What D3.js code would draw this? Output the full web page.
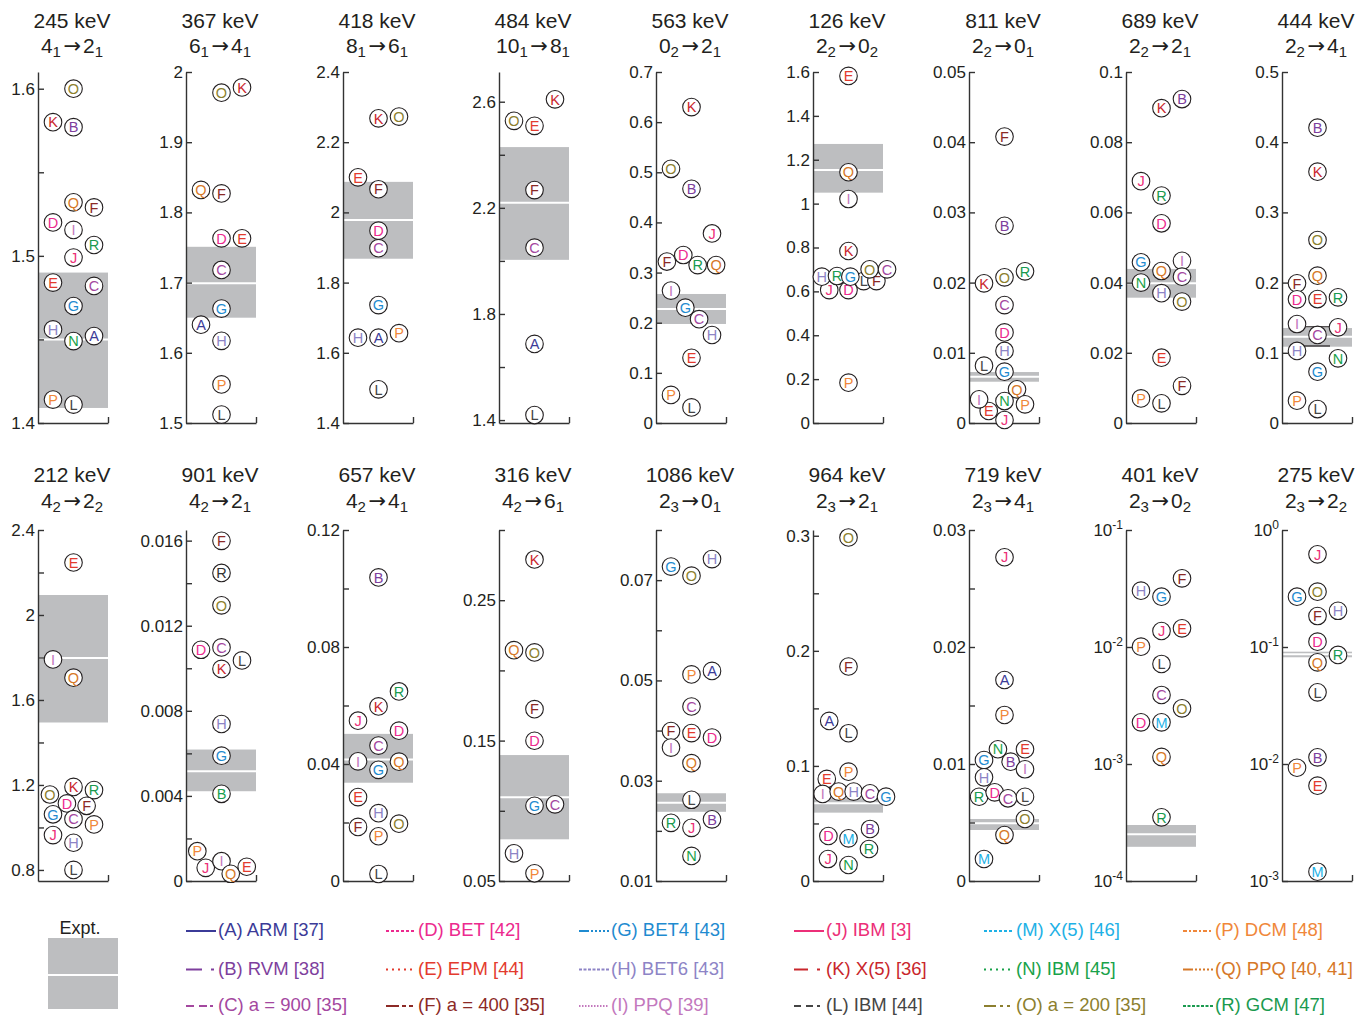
<!DOCTYPE html>
<html><head><meta charset="utf-8">
<script src="https://cdn.jsdelivr.net/npm/d3@7"></script>
<style>
body{margin:0;background:#fff;}
svg{display:block;font-family:"Liberation Sans",Arial,Helvetica,sans-serif;}
</style>
</head><body>
<svg id="c" width="1371" height="1015"></svg>
<script>
// ---------------- data ----------------
const models = ["A","B","C","D","E","F","G","H","I","J","K","L","M","N","O","P","Q","R"];
const modelNames = ["ARM [37]","RVM [38]","a = 900 [35]","BET [42]","EPM [44]","a = 400 [35]","BET4 [43]","BET6 [43]","PPQ [39]",
  "IBM [3]","X(5) [36]","IBM [44]","X(5) [46]","IBM [45]","a = 200 [35]","DCM [48]","PPQ [40, 41]","GCM [47]"];
const modelColors = ["#3b3b98","#7e3f9d","#a4489f","#ec2a8e","#e33b2e","#8c2a26","#1f8bd0","#8d84c6","#c378bd",
  "#ec2f78","#c9262c","#454545","#1eb1e6","#19a24a","#8c7f2f","#f0873a","#d67828","#1a9a4f"];
const modelDashes = ["none","16,9,3,2","8,5,8,3,3,3","3,2","2,4","13,3,4,3,4,3","10,2,2,2,2,2,2,2,2,2,2","3,1.5","1.5,1.5",
  "none","14,9,3,4","7,5,7,4,3,4","3,2","2,4","12,4,3,4,3,4","4,2,2,2","10,2,2,2,2,2,2,2,2,2,2","3,1.5"];

const energies = ["245 keV","367 keV","418 keV","484 keV","563 keV","126 keV","811 keV","689 keV","444 keV",
  "212 keV","901 keV","657 keV","316 keV","1086 keV","964 keV","719 keV","401 keV","275 keV"];
const transitions = [["4","1","2","1"],["6","1","4","1"],["8","1","6","1"],["10","1","8","1"],["0","2","2","1"],
  ["2","2","0","2"],["2","2","0","1"],["2","2","2","1"],["2","2","4","1"],["4","2","2","2"],["4","2","2","1"],
  ["4","2","4","1"],["4","2","6","1"],["2","3","0","1"],["2","3","2","1"],["2","3","4","1"],["2","3","0","2"],["2","3","2","2"]];

// experimental value [value, low, high]
const expt = [[1.45,1.409,1.490],[1.699,1.650,1.751],[1.978,1.868,2.087],[2.219,2.004,2.429],[0.2274,0.1975,0.2573],
  [1.153,1.050,1.272],[0.0066,0.00588,0.00726],[0.0398,0.0357,0.0439],[0.1229,0.1087,0.1353],
  [1.797,1.494,2.094],[0.00516,0.00422,0.00618],[0.0415,0.0336,0.0503],[0.1096,0.0797,0.1397],
  [0.0256,0.0238,0.0275],[0.0676,0.0594,0.0719],[0.00493,0.00436,0.0053],[0.000251,0.000196,0.000301],[0.0866,0.0817,0.0912]];
const extraLines444 = [0.137, 0.1097];

const domains = [[1.4,1.61],[1.5,2.0],[1.4,2.4],[1.389,2.712],[0,0.7],[0,1.6],[0,0.05],[0,0.1],[0,0.5],
  [0.748,2.4],[0,0.0165],[0,0.12],[0.05,0.3],[0.01,0.08],[0,0.305],[0,0.03],[1e-4,1e-1],[1e-3,1]];
const logPanels = [16,17];
const majorTicks = [[1.4,1.5,1.6],[1.5,1.6,1.7,1.8,1.9,2],[1.4,1.6,1.8,2,2.2,2.4],[1.4,1.8,2.2,2.6],
  [0,0.1,0.2,0.3,0.4,0.5,0.6,0.7],[0,0.2,0.4,0.6,0.8,1,1.2,1.4,1.6],[0,0.01,0.02,0.03,0.04,0.05],
  [0,0.02,0.04,0.06,0.08,0.1],[0,0.1,0.2,0.3,0.4,0.5],
  [0.8,1.2,1.6,2,2.4],[0,0.004,0.008,0.012,0.016],[0,0.04,0.08,0.12],[0.05,0.15,0.25],[0.01,0.03,0.05,0.07],
  [0,0.1,0.2,0.3],[0,0.01,0.02,0.03],[1e-4,1e-3,1e-2,1e-1],[1e-3,1e-2,1e-1,1]];
const tickLabels = [["1.4","1.5","1.6"],["1.5","1.6","1.7","1.8","1.9","2"],["1.4","1.6","1.8","2","2.2","2.4"],["1.4","1.8","2.2","2.6"],
  ["0","0.1","0.2","0.3","0.4","0.5","0.6","0.7"],["0","0.2","0.4","0.6","0.8","1","1.2","1.4","1.6"],["0","0.01","0.02","0.03","0.04","0.05"],
  ["0","0.02","0.04","0.06","0.08","0.1"],["0","0.1","0.2","0.3","0.4","0.5"],
  ["0.8","1.2","1.6","2","2.4"],["0","0.004","0.008","0.012","0.016"],["0","0.04","0.08","0.12"],["0.05","0.15","0.25"],["0.01","0.03","0.05","0.07"],
  ["0","0.1","0.2","0.3"],["0","0.01","0.02","0.03"],["-4","-3","-2","-1"],["-3","-2","-1","0"]];
const minorTicks = [[1.45,1.55],[],[],[1.6,2.0,2.4],[],[],[],[],[],
  [1.0,1.4,1.8,2.2],[0.002,0.006,0.01,0.014],[0.02,0.06,0.1],[0.1,0.2,0.3],[0.02,0.04,0.06,0.08],
  [0.05,0.15,0.25],[0.005,0.015,0.025],[],[]];

// points: [model, value, lane]  (lane: -1 left, 0 centre, 1 right)
const p245 = [["O",1.600,0],["K",1.580,-1],["B",1.577,0],["Q",1.532,0],["F",1.529,1],["D",1.520,-1],["I",1.5155,0],["R",1.5065,1],["J",1.499,0],["E",1.484,-1],["C",1.482,1],["G",1.470,0],["H",1.456,-1],["N",1.449,0],["A",1.452,1],["P",1.414,-1],["L",1.411,0]];
const p367 = [["O",1.9705,0],["K",1.978,1],["Q",1.832,-1],["F",1.827,0],["D",1.763,0],["E",1.763,1],["C",1.718,0],["G",1.663,0],["A",1.640,-1],["H",1.617,0],["P",1.555,0],["L",1.512,0]];
const p418 = [["K",2.268,0],["O",2.273,1],["E",2.100,-1],["F",2.066,0],["D",1.948,0],["C",1.898,0],["G",1.736,0],["H",1.643,-1],["A",1.643,0],["P",1.656,1],["L",1.496,0]];
const p484 = [["K",2.609,1],["O",2.528,-1],["E",2.509,0],["F",2.267,0],["C",2.050,0],["A",1.687,0],["L",1.419,0]];
const p563 = [["K",0.630,0],["O",0.507,-1],["B",0.467,0],["J",0.378,1],["F",0.322,-1.2],["D",0.335,-0.4],["R",0.315,0.3],["Q",0.315,1.2],["I",0.264,-1],["G",0.230,-0.3],["C",0.207,0.37],["H",0.1755,1],["E",0.130,0],["P",0.056,-1],["L",0.031,0]];
const p126 = [["E",1.582,0],["Q",1.143,0],["I",1.021,0],["K",0.784,0],["J",0.606,-0.94],["D",0.606,0],["L",0.647,0.74],["F",0.647,1.36],["H",0.667,-1.3],["R",0.670,-0.56],["G",0.667,0.09],["O",0.7005,1.03],["C",0.7005,1.88],["P",0.184,0]];
const p811 = [["F",0.0408,0],["B",0.0281,0],["R",0.0216,1],["O",0.02075,0],["K",0.0199,-1],["C",0.0168,0],["D",0.0129,0],["H",0.01026,0],["L",0.00817,-1],["G",0.00731,0],["Q",0.0048,0.61],["E",0.00171,-0.77],["I",0.00337,-1.24],["N",0.00313,0],["P",0.00266,1],["J",0.00043,0]];
const p689 = [["B",0.0923,1],["K",0.0897,0],["J",0.0689,-1],["R",0.0648,0],["D",0.0569,0],["G",0.0458,-1],["I",0.0462,1],["Q",0.0433,0],["C",0.0417,1],["N",0.0400,-1],["H",0.0370,0],["O",0.0346,1],["E",0.0186,0],["F",0.0106,1],["P",0.0070,-1],["L",0.0056,0]];
const p444 = [["B",0.4207,0],["K",0.358,0],["O",0.2607,0],["Q",0.2099,0],["F",0.199,-1],["D",0.1762,-1],["E",0.1766,0],["R",0.179,1],["I",0.141,-1],["J",0.1363,1],["C",0.1254,0],["H",0.1026,-1],["N",0.0921,1],["G",0.0731,0],["P",0.0318,-1],["L",0.0199,0]];
const p212 = [["E",2.247,0],["I",1.791,-1],["Q",1.705,0],["K",1.191,0],["R",1.176,1],["O",1.155,-1.15],["D",1.113,-0.32],["F",1.102,0.64],["G",1.062,-1],["C",1.039,0],["P",1.0145,1],["J",0.964,-1],["H",0.928,0],["L",0.800,0]];
const p901 = [["F",0.01599,0],["R",0.01448,0],["O",0.01296,0],["D",0.01087,-1],["C",0.01098,0],["L",0.01037,1],["K",0.00997,0],["H",0.00738,0],["G",0.00589,0],["B",0.0041,0],["P",0.0014,-1.18],["J",0.00062,-0.77],["I",0.00093,0],["Q",0.00034,0.45],["E",0.00067,1.23]];
const p657 = [["B",0.1038,0],["R",0.0648,1],["K",0.0597,0],["J",0.0548,-1],["D",0.0514,1],["C",0.0463,0],["I",0.0409,-1],["Q",0.0408,1],["G",0.038,0],["E",0.0287,-1],["H",0.0232,0],["F",0.0185,-1],["O",0.0196,1],["P",0.0153,0],["L",0.0024,0]];
const p316 = [["K",0.279,0],["Q",0.2144,-1],["O",0.2128,0],["F",0.1724,0],["D",0.1499,0],["G",0.1036,0],["C",0.1046,1],["H",0.0697,-1],["P",0.0555,0]];
const p1086 = [["G",0.0727,-1],["O",0.0709,0],["H",0.0742,1],["P",0.0512,0],["A",0.0519,1],["C",0.0448,0],["F",0.0399,-1],["E",0.0395,0],["D",0.0386,1],["I",0.0366,-1],["Q",0.0335,0],["L",0.0262,0],["R",0.0216,-1],["B",0.0223,1],["J",0.0206,0],["N",0.015,0]];
const p964 = [["O",0.2985,0],["F",0.1864,0],["A",0.1391,-0.94],["L",0.1284,0],["P",0.095,0],["E",0.0887,-1.06],["I",0.0757,-1.26],["Q",0.0777,-0.48],["H",0.0777,0.25],["C",0.0762,1.05],["G",0.0733,1.83],["B",0.0452,1.05],["D",0.0391,-0.98],["M",0.0371,0],["R",0.0278,1],["J",0.0191,-1],["N",0.0139,0]];
const p719 = [["J",0.02767,0],["A",0.01718,0],["P",0.01419,0],["N",0.01126,-0.32],["E",0.01126,1],["G",0.01034,-1],["B",0.0102,0.3],["I",0.00955,1],["H",0.00886,-1],["R",0.0072,-1.24],["D",0.00758,-0.48],["C",0.00707,0.17],["L",0.0072,1],["O",0.0053,1],["Q",0.00393,0],["M",0.00188,-1]];
const p401 = [["F",0.0386,1],["H",0.0303,-1],["G",0.0269,0],["J",0.0137,0],["E",0.01445,1],["P",0.01007,-1],["L",0.00716,0],["C",0.00389,0],["O",0.00299,1],["D",0.00227,-1],["M",0.00227,0],["Q",0.00115,0],["R",0.00035,0]];
const p275 = [["J",0.619,0],["O",0.297,0],["G",0.269,-1],["H",0.204,1],["F",0.184,0],["D",0.111,0],["R",0.0855,1],["Q",0.074,0],["L",0.041,0],["B",0.0114,0],["P",0.00929,-1],["E",0.00653,0],["M",0.0012,0]];
// colour overrides as printed in the 901 keV panel
const colorOverride901 = {R:"#333333", B:"#1aa050"};

// ---------------- drawing ----------------
const allPoints = [p245,p367,p418,p484,p563,p126,p811,p689,p444,p212,p901,p657,p316,p1086,p964,p719,p401,p275];
const colorOf = Object.fromEntries(models.map((m,k)=>[m, modelColors[k]]));
const svg = d3.select("#c");
svg.append("rect").attr("width",1371).attr("height",1015).attr("fill","#fff");

const axisX = [38,186,343,499,656,813,969,1126,1282];
const rowY = [[423,72],[881,530]];
const titleY = [[27.5,52.5],[482,507.5]];
const W = 70, TXT = "#231f20";

energies.forEach((en,i)=>{
  const row = i<9?0:1, col = i%9, x0 = axisX[col];
  const [yb,yt] = rowY[row];
  const y = (logPanels.includes(i)? d3.scaleLog(): d3.scaleLinear()).domain(domains[i]).range([yb,yt]);
  const g = svg.append("g");

  // titles
  g.append("text").attr("x",x0+34).attr("y",titleY[row][0]).attr("text-anchor","middle")
    .attr("font-size",21).attr("fill",TXT).text(en);
  const tr = transitions[i];
  const t2 = g.append("text").attr("x",x0+34).attr("y",titleY[row][1]).attr("text-anchor","middle")
    .attr("font-size",21).attr("fill",TXT);
  t2.append("tspan").text(tr[0]);
  t2.append("tspan").attr("dy",4.6).attr("font-size",15).text(tr[1]);
  t2.append("tspan").attr("dy",-4.6).attr("dx",2.5).attr("font-family","DejaVu Sans").attr("font-size",21).text("\u2192");
  t2.append("tspan").attr("dx",2).text(tr[2]);
  t2.append("tspan").attr("dy",4.6).attr("font-size",15).text(tr[3]);

  // experimental band
  const ex = expt[i];
  g.append("rect").attr("x",x0).attr("width",W).attr("y",y(ex[2])).attr("height",y(ex[1])-y(ex[2])).attr("fill","#bdbec0");
  g.append("line").attr("x1",x0).attr("x2",x0+W).attr("y1",y(ex[0])).attr("y2",y(ex[0])).attr("stroke","#fff").attr("stroke-width",2);
  if(i===8){
    g.selectAll("line.extra").data(extraLines444).join("line").attr("class","extra")
      .attr("x1",x0+18).attr("x2",x0+48).attr("y1",d=>y(d)).attr("y2",d=>y(d))
      .attr("stroke","#231f20").attr("stroke-width",1.2);
  }

  // axes
  const labelMap = new Map(majorTicks[i].map((v,k)=>[v, tickLabels[i][k]]));
  const ax = d3.axisLeft(y).tickValues(majorTicks[i].concat(minorTicks[i]))
    .tickSizeInner(-6).tickSizeOuter(0).tickPadding(3)
    .tickFormat(v => labelMap.has(v)? labelMap.get(v): "");
  const ag = g.append("g").attr("transform",`translate(${x0},0)`).call(ax);
  ag.attr("font-family",null).attr("font-size",17);
  ag.selectAll("path,line").attr("stroke","#333").attr("stroke-width",1.4);
  ag.selectAll("text").attr("fill",TXT);
  if(logPanels.includes(i)){
    ag.selectAll("text").each(function(v){
      const s = labelMap.get(v); const t = d3.select(this); t.text("");
      t.append("tspan").text("10");
      t.append("tspan").attr("dy",-7).attr("font-size",12).text(s);
    });
  }
  const xb = d3.scaleLinear().domain([0,1]).range([x0,x0+W]);
  const bg = g.append("g").attr("transform",`translate(0,${yb})`)
    .call(d3.axisBottom(xb).tickValues([1]).tickSizeInner(-6).tickSizeOuter(0).tickFormat(""));
  bg.selectAll("path,line").attr("stroke","#333").attr("stroke-width",1.4);

  // points
  const lane = d3.scaleLinear().domain([-1,1]).range([x0+15,x0+56]);
  const pg = g.selectAll("g.pt").data(allPoints[i]).join("g").attr("class","pt")
    .attr("transform",d=>`translate(${lane(d[2])},${y(d[1])})`);
  pg.append("circle").attr("r",8.8).attr("fill","#fff").attr("stroke","#231f20").attr("stroke-width",1.1);
  pg.append("text").attr("text-anchor","middle").attr("dy","0.36em").attr("font-size",14.5)
    .attr("fill",d=> (i===10 && colorOverride901[d[0]]) ? colorOverride901[d[0]] : colorOf[d[0]])
    .text(d=>d[0]);
});

// ---------------- legend ----------------
const lg = svg.append("g");
lg.append("text").attr("x",80).attr("y",934).attr("text-anchor","middle").attr("font-size",18).attr("fill",TXT).text("Expt.");
lg.append("rect").attr("x",48).attr("y",938).attr("width",70).attr("height",71).attr("fill","#bdbec0");
lg.append("line").attr("x1",48).attr("x2",118).attr("y1",975).attr("y2",975).attr("stroke","#fff").attr("stroke-width",2);
const legendX = [186,386,579,794,984,1183];
const legendY = [930,968.5,1005];
const items = lg.selectAll("g.it").data(models).join("g").attr("class","it")
  .attr("transform",(m,k)=>`translate(${legendX[Math.floor(k/3)]},${legendY[k%3]})`);
items.append("line").attr("x1",0).attr("x2",30).attr("y1",1).attr("y2",1)
  .attr("stroke",(m,k)=>modelColors[k]).attr("stroke-width",2)
  .attr("stroke-dasharray",(m,k)=>modelDashes[k]==="none"?null:modelDashes[k]);
items.append("text").attr("x",32).attr("dy","0.35em").attr("font-size",18.5)
  .attr("fill",(m,k)=>modelColors[k]).text((m,k)=>`(${m}) ${modelNames[k]}`);
</script>
</body></html>
